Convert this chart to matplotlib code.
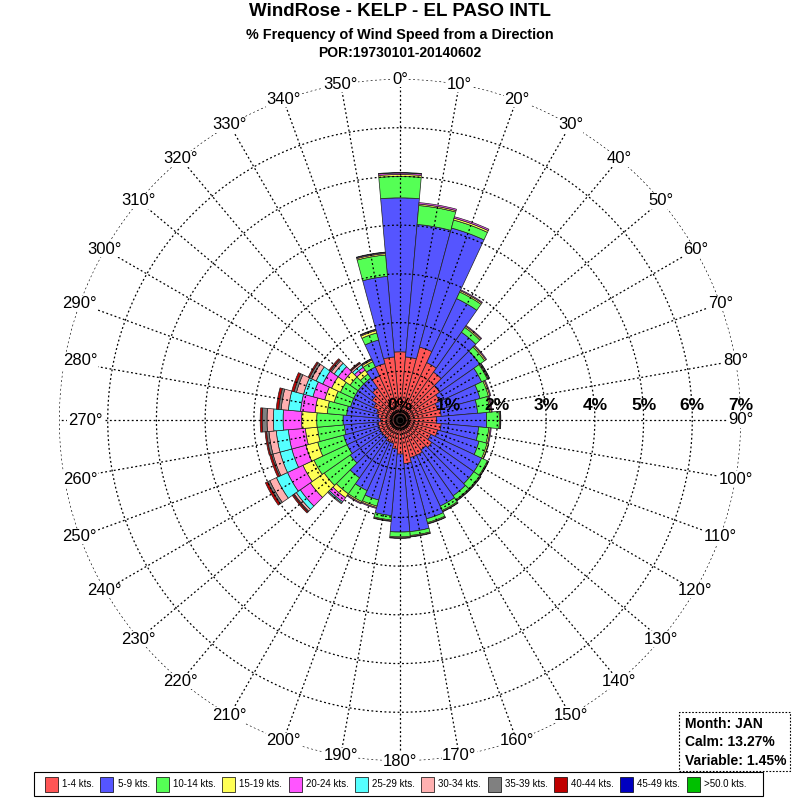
import numpy as np
import matplotlib
matplotlib.use("Agg")
import matplotlib.pyplot as plt
from matplotlib.patches import Rectangle

plt.rcParams["font.family"] = ["Liberation Sans", "DejaVu Sans"]

# wind directions (degrees, "from")
directions = list(range(0, 360, 10))

speed_labels = ["1-4 kts.", "5-9 kts.", "10-14 kts.", "15-19 kts.", "20-24 kts.",
                "25-29 kts.", "30-34 kts.", "35-39 kts.", "40-44 kts.", "45-49 kts.",
                ">50.0 kts."]
speed_colors = ["#ff5555", "#5555ff", "#55ff55", "#ffff55", "#ff55ff", "#55ffff",
                "#ffb0b0", "#808080", "#c00000", "#0000c0", "#00c000"]

# % frequency per direction (0..350 by 10) for each speed class
kts_1_4 = [1.40, 1.30, 1.55, 1.30, 1.20, 1.00, 0.90, 0.80, 0.85, 0.75, 0.85, 0.80,
           0.70, 0.80, 0.75, 0.80, 0.80, 0.90, 0.70, 0.60, 0.50, 0.50, 0.45, 0.45,
           0.45, 0.45, 0.45, 0.40, 0.45, 0.50, 0.60, 0.70, 0.80, 1.00, 1.20, 1.30]
kts_5_9 = [3.16, 2.73, 2.53, 1.45, 1.00, 1.00, 0.95, 0.90, 0.75, 1.03, 0.77, 0.88,
           1.15, 1.05, 1.15, 1.15, 1.30, 1.40, 1.60, 1.37, 1.20, 1.10, 1.00, 0.80,
           0.75, 0.75, 0.70, 0.77, 0.65, 0.55, 0.45, 0.35, 0.25, 0.20, 0.50, 1.66]
kts_10_14 = [0.44, 0.39, 0.17, 0.15, 0.12, 0.12, 0.13, 0.18, 0.25, 0.26, 0.21, 0.17,
             0.13, 0.15, 0.10, 0.10, 0.08, 0.08, 0.10, 0.09, 0.13, 0.25, 0.40, 0.65,
             0.75, 0.55, 0.55, 0.54, 0.40, 0.35, 0.30, 0.20, 0.10, 0.12, 0.15, 0.44]
kts_15_19 = [0.04, 0.03, 0.04, 0.03, 0.03, 0.03, 0.02, 0.03, 0.03, 0.02, 0.03, 0.03,
             0.02, 0.02, 0.02, 0.02, 0.02, 0.02, 0.02, 0.02, 0.03, 0.03, 0.10, 0.35,
             0.25, 0.25, 0.25, 0.31, 0.25, 0.20, 0.20, 0.15, 0.10, 0.04, 0.05, 0.03]
kts_20_24 = [0.03, 0.03, 0.03, 0.02, 0.02, 0.02, 0.02, 0.02, 0.02, 0.01, 0.02, 0.01,
             0.01, 0.01, 0.01, 0.01, 0.01, 0.01, 0.01, 0.01, 0.02, 0.02, 0.10, 0.25,
             0.35, 0.30, 0.35, 0.38, 0.30, 0.25, 0.20, 0.15, 0.07, 0.02, 0.02, 0.02]
kts_25_29 = [0.01, 0.00, 0.00, 0.00, 0.00, 0.00, 0.01, 0.00, 0.00, 0.00, 0.00, 0.00,
             0.00, 0.00, 0.00, 0.00, 0.00, 0.00, 0.00, 0.00, 0.00, 0.00, 0.03, 0.10,
             0.25, 0.25, 0.25, 0.20, 0.25, 0.20, 0.15, 0.10, 0.06, 0.01, 0.01, 0.01]
kts_30_34 = [0.00] * 22 + [0.02, 0.05, 0.15, 0.15, 0.15, 0.13, 0.15, 0.15, 0.10, 0.07,
                           0.04, 0.00, 0.00, 0.00]
kts_35_39 = [0.00] * 23 + [0.02, 0.05, 0.03, 0.05, 0.10, 0.05, 0.05, 0.05, 0.03,
                           0.01, 0.00, 0.00, 0.00]
kts_40_44 = [0.00] * 23 + [0.03, 0.05, 0.04, 0.03, 0.04, 0.05, 0.05, 0.03, 0.03,
                           0.02, 0.00, 0.00, 0.00]
kts_45_49 = [0.00] * 36
kts_50_up = [0.00] * 36

series = [kts_1_4, kts_5_9, kts_10_14, kts_15_19, kts_20_24, kts_25_29,
          kts_30_34, kts_35_39, kts_40_44, kts_45_49, kts_50_up]

month = "JAN"
calm_pct = 13.27
variable_pct = 1.45
max_ring = 7

W, H = 800, 800
fig = plt.figure(figsize=(W / 100, H / 100), dpi=100)

# polar axes centred at (400, 420) px with radius 341 px
rad = 341 / W
cx, cy = 400 / W, 1 - 420 / H
ax = fig.add_axes([cx - rad, cy - rad, 2 * rad, 2 * rad], projection="polar")
ax.set_theta_zero_location("N")
ax.set_theta_direction(-1)
ax.set_ylim(0, max_ring)
ax.axis("off")

theta = np.deg2rad(directions)
width = np.deg2rad(10)
bottom = np.zeros(len(directions))
for vals, col in zip(series, speed_colors):
    vals = np.asarray(vals, dtype=float)
    m = vals > 0
    ax.bar(theta[m], vals[m], width=width, bottom=bottom[m], color=col,
           edgecolor="#202020", linewidth=0.5, zorder=2, align="center")
    bottom += vals

# dotted grid on top of the bars
dots = (0, (1.5, 2.0))
ring_t = np.linspace(0, 2 * np.pi, 721)
for r in range(1, max_ring + 1):
    ax.plot(ring_t, np.full_like(ring_t, r), color="black", lw=0.9, ls=dots, zorder=3)
for d in directions:
    ax.plot([np.deg2rad(d)] * 2, [0, max_ring], color="black", lw=0.9, ls=dots, zorder=3)

# little circles at the centre
for r in (0.10, 0.17):
    ax.plot(ring_t, np.full_like(ring_t, r), color="black", lw=1.0, zorder=4)
ax.plot([0], [0], "o", color="black", ms=3, zorder=4)

# percent labels along the east axis
for k in range(0, max_ring + 1):
    ax.annotate(f"{k}%", xy=(np.pi / 2, k), xytext=(0, 14), textcoords="offset pixels",
                ha="center", va="center", fontsize=12.5, fontweight="bold", zorder=6)

# direction labels on the outer ring
shift = {260: 16, 270: 26, 280: 16}
for d in directions:
    ax.annotate(f"{d}°", xy=(np.deg2rad(d), max_ring), xytext=(shift.get(d, 0), 0),
                textcoords="offset pixels", ha="center", va="center", fontsize=12,
                annotation_clip=False, zorder=6,
                bbox=dict(facecolor="white", edgecolor="none", pad=0.3))

# titles
fig.text(0.5, 1 - 12 / H, "WindRose - KELP - EL PASO INTL", ha="center", va="center",
         fontsize=13.5, fontweight="bold")
fig.text(0.5, 1 - 35 / H, "% Frequency of Wind Speed from a Direction", ha="center",
         va="center", fontsize=10.4, fontweight="bold")
fig.text(0.5, 1 - 53 / H, "POR:19730101-20140602", ha="center", va="center",
         fontsize=10, fontweight="bold")

# info box
fig.patches.append(Rectangle((679 / W, 1 - 771 / H), 111 / W, 59 / H, transform=fig.transFigure,
                             facecolor="white", edgecolor="black", lw=0.8, ls=(0, (1.5, 1.5))))
info = [f"Month: {month}", f"Calm: {calm_pct:.2f}%", f"Variable: {variable_pct:.2f}%"]
for i, line in enumerate(info):
    fig.text(685 / W, 1 - (724 + 18.5 * i) / H, line, ha="left", va="center",
             fontsize=10, fontweight="bold")

# legend strip
fig.patches.append(Rectangle((34 / W, 1 - 796 / H), 729 / W, 24 / H, transform=fig.transFigure,
                             facecolor="white", edgecolor="black", lw=0.8))
renderer = fig.canvas.get_renderer()
x = 45
for lab, col in zip(speed_labels, speed_colors):
    fig.patches.append(Rectangle((x / W, 1 - 791.5 / H), 13 / W, 15 / H,
                                 transform=fig.transFigure, facecolor=col,
                                 edgecolor="black", lw=0.5))
    t = fig.text((x + 17) / W, 1 - 784 / H, lab, ha="left", va="center", fontsize=7)
    x += 17 + t.get_window_extent(renderer).width + 6.5

fig.savefig("out.png", dpi=100)
